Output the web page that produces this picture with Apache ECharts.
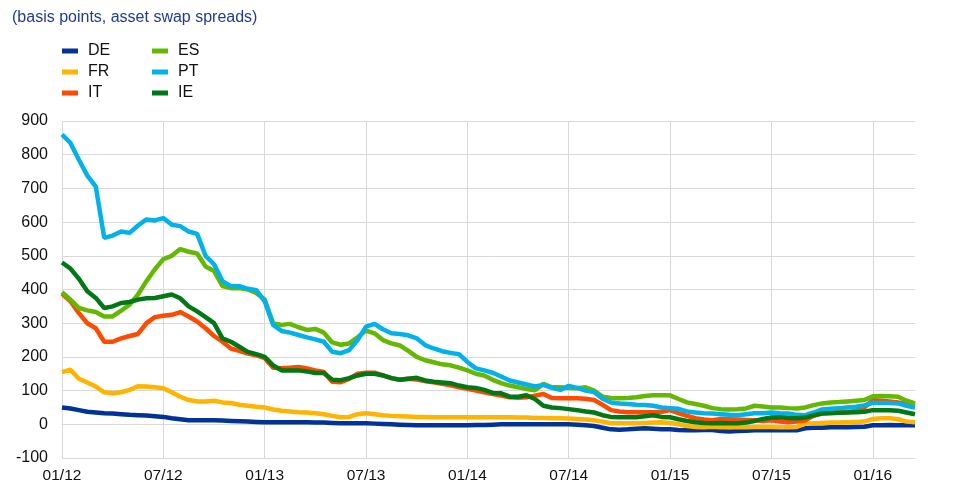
<!DOCTYPE html>
<html>
<head>
<meta charset="utf-8">
<script src="https://cdn.jsdelivr.net/npm/echarts@6/dist/echarts.min.js"></script>
<style>
  html, body { margin: 0; padding: 0; background: #fff; }
  #chart { width: 966px; height: 499px; }
</style>
</head>
<body>
<div id="chart"></div>
<script>
// half-month steps from 01/12 to mid 03/16
var dates = [];
for (var i = 0; i < 102; i++) {
  var m = Math.floor(i / 2);
  var yy = 12 + Math.floor(m / 12);
  var mm = (m % 12) + 1;
  dates.push((mm < 10 ? '0' + mm : '' + mm) + '/' + yy + (i % 2 ? 'b' : 'a'));
}

// basis points
var de = [50,47,42,37,35,33,32,30,28,27,26,24,22,18,15,12,12,12,12,11,
  10,9,8,7,6,6,6,6,6,6,5,5,4,3,3,3,3,2,1,0,
  -1,-2,-3,-3,-3,-3,-3,-3,-3,-2,-2,-1,0,0,0,0,0,0,0,0,
  0,-1,-3,-5,-10,-15,-16,-15,-13,-12,-13,-15,-15,-17,-18,-18,-17,-17,-20,-21,
  -20,-19,-18,-18,-18,-18,-18,-18,-12,-10,-10,-9,-9,-9,-8,-7,-3,-3,-2,-3,
  -3,-3];
var fr = [155,162,135,124,112,95,92,95,102,113,112,110,107,95,82,72,68,68,70,65,
  63,58,55,52,50,44,40,38,36,35,33,30,25,21,22,30,33,30,27,25,
  24,23,22,22,21,21,21,21,21,21,21,21,21,21,20,20,19,19,18,18,
  17,16,14,12,8,3,3,3,3,4,5,6,4,0,-5,-8,-9,-7,-9,-9,
  -9,-9,-8,-8,-8,-9,-9,-8,2,3,4,5,5,6,7,8,16,18,18,15,
  8,6];
var it = [388,365,330,300,285,245,245,255,262,268,300,318,322,325,333,320,305,285,262,245,
  225,218,210,205,196,168,166,168,170,166,160,155,126,125,135,150,153,153,145,137,
  132,135,133,128,125,120,116,110,105,100,95,90,85,80,79,80,85,90,78,77,
  77,77,76,72,58,42,38,36,36,36,36,37,42,33,25,18,14,12,16,15,
  14,13,12,10,12,8,6,8,12,25,33,34,35,36,40,50,72,70,68,65,
  60,56];
var es = [392,370,345,338,333,320,320,337,355,385,425,460,490,500,520,512,507,468,455,410,
  404,404,400,390,370,300,295,298,288,280,283,272,243,236,240,258,278,270,250,240,
  234,218,200,190,184,178,175,168,160,150,145,132,122,115,110,105,101,120,110,110,
  108,107,110,100,82,78,77,78,80,84,86,86,86,75,65,60,55,48,45,44,
  45,47,55,53,50,50,48,47,50,57,62,65,66,68,70,72,83,84,83,82,
  70,62];
var pt = [860,835,785,738,705,553,560,572,568,590,608,605,612,592,588,572,565,500,475,425,
  410,410,402,398,365,295,277,272,265,258,252,245,215,211,220,250,290,298,282,270,
  268,264,255,235,225,217,212,208,185,166,160,153,142,130,124,118,112,117,108,102,
  114,108,100,96,76,65,62,60,58,57,55,50,48,46,38,35,33,32,30,28,
  27,30,33,33,35,33,32,28,27,35,44,46,48,50,52,56,64,63,63,62,
  55,50];
var ie = [480,462,432,395,375,345,350,360,363,370,374,375,380,385,374,350,335,318,300,255,
  245,230,215,208,200,175,160,160,160,157,152,152,132,131,137,145,150,150,145,137,
  132,135,138,130,126,124,122,115,110,108,102,93,92,82,82,86,75,55,50,48,
  45,42,38,35,27,22,21,21,21,24,27,22,21,15,10,6,4,3,4,3,
  3,5,10,16,20,21,19,18,20,27,32,33,34,35,36,37,42,42,42,40,
  35,30];

var names = ['DE', 'FR', 'IT', 'ES', 'PT', 'IE'];
var colors = ['#003299', '#ffb400', '#ff4b00', '#65b800', '#00b1ea', '#007816'];
var values = [de, fr, it, es, pt, ie];

var chart = echarts.init(document.getElementById('chart'));

var series = [];
for (var k = 0; k < names.length; k++) {
  series.push({
    name: names[k],
    type: 'line',
    data: values[k],
    showSymbol: false,
    symbol: 'none',
    lineStyle: { width: 4.5, color: colors[k] },
    itemStyle: { color: colors[k] }
  });
}

var legendBase = {
  orient: 'vertical',
  top: 38,
  itemWidth: 16,
  itemHeight: 5,
  itemGap: 5,
  icon: 'rect',
  textStyle: { fontFamily: 'Liberation Sans, Arial', fontSize: 16, color: '#111', lineHeight: 16, padding: [0, 0, 0, 5] }
};

var option = {
  animation: false,
  color: colors,
  title: {
    text: '(basis points, asset swap spreads)',
    left: 7,
    top: 5,
    textStyle: { fontFamily: 'Liberation Sans, Arial', fontSize: 16, fontWeight: 'normal', color: '#1e3c96' }
  },
  legend: [
    Object.assign({}, legendBase, { left: 57, data: ['DE', 'FR', 'IT'] }),
    Object.assign({}, legendBase, { left: 147, data: ['ES', 'PT', 'IE'] })
  ],
  grid: { left: 62, right: 51, top: 121, bottom: 41 },
  xAxis: {
    type: 'category',
    data: dates,
    boundaryGap: false,
    axisLine: { lineStyle: { color: '#d9d9d9', width: 1 } },
    axisTick: { show: false },
    axisLabel: {
      interval: function (idx) { return idx % 12 === 0; },
      formatter: function (v) { return v.slice(0, 5); },
      fontFamily: 'Liberation Sans, Arial',
      fontSize: 15.5,
      color: '#111',
      margin: 10
    },
    splitLine: {
      show: true,
      interval: function (idx) { return idx % 12 === 0; },
      lineStyle: { color: '#d9d9d9', width: 1 }
    }
  },
  yAxis: {
    type: 'value',
    min: -100,
    max: 900,
    interval: 100,
    axisLine: { show: false },
    axisTick: { show: false },
    axisLabel: { fontFamily: 'Liberation Sans, Arial', fontSize: 16, color: '#111', margin: 14 },
    splitLine: { lineStyle: { color: '#d9d9d9', width: 1 } }
  },
  series: series
};

chart.setOption(option);
</script>
</body>
</html>
